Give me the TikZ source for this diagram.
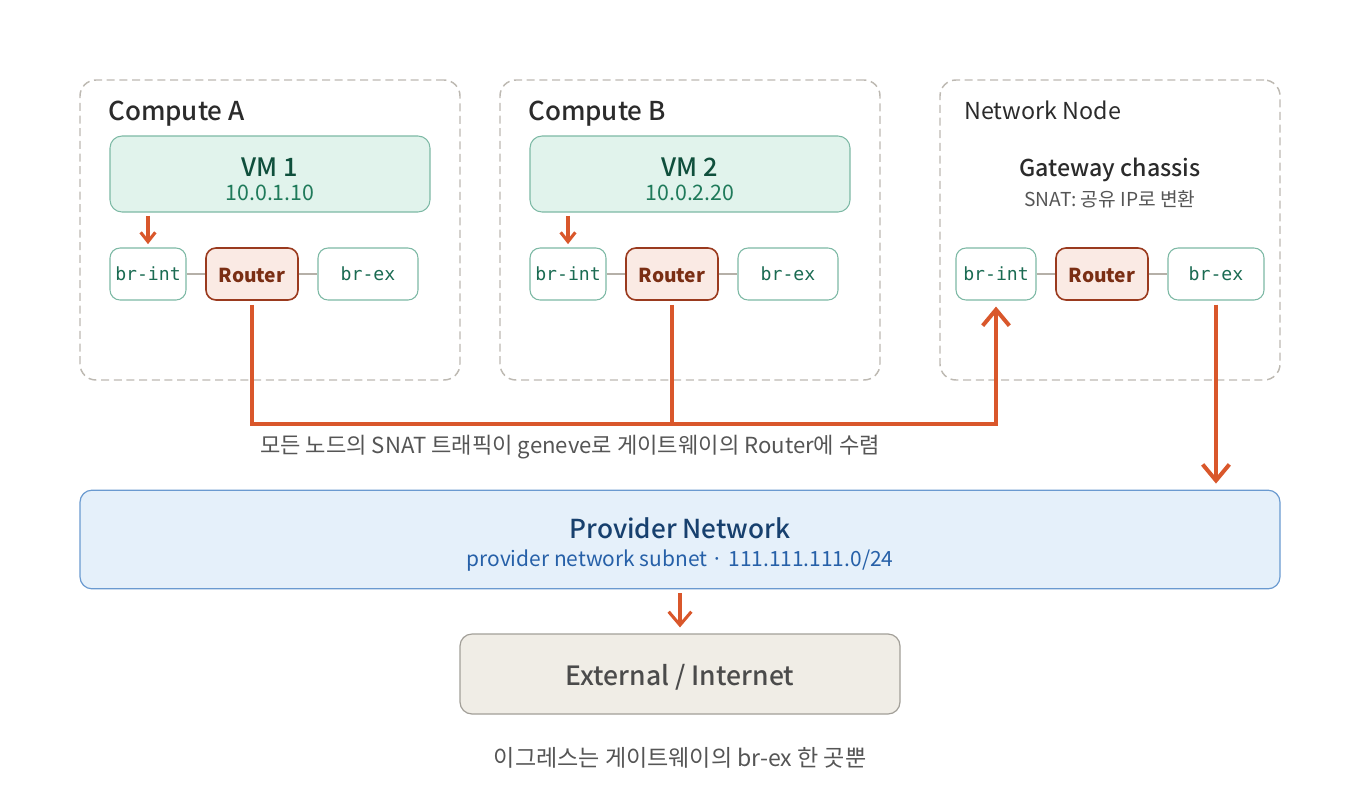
\documentclass[tikz,border=0pt]{standalone}
\usepackage{fontspec}
\setmainfont{Noto Sans CJK KR}
\setmonofont{DejaVu Sans Mono}
\newfontfamily\medfont{Noto Sans CJK KR Medium}
\usetikzlibrary{arrows.meta,positioning,calc}

\definecolor{hostgray}{HTML}{BDB9B2}
\definecolor{vmfill}{HTML}{E1F3EC}
\definecolor{vmline}{HTML}{7DB9A5}
\definecolor{vmtext}{HTML}{0F4F3C}
\definecolor{iptext}{HTML}{1F7A5A}
\definecolor{brtext}{HTML}{1A6B52}
\definecolor{rtfill}{HTML}{FAEAE4}
\definecolor{rtline}{HTML}{9A3A1E}
\definecolor{rttext}{HTML}{7A2E14}
\definecolor{flow}{HTML}{D9572B}
\definecolor{linkgray}{HTML}{B5B0A8}
\definecolor{provfill}{HTML}{E5F0FA}
\definecolor{provline}{HTML}{6A9AD0}
\definecolor{provtitle}{HTML}{17406E}
\definecolor{provsub}{HTML}{2660A8}
\definecolor{extfill}{HTML}{F0EDE6}
\definecolor{extline}{HTML}{A29F98}
\definecolor{inktext}{HTML}{2B2B2B}
\definecolor{notetext}{HTML}{555555}

\begin{document}
\begin{tikzpicture}[
  x=0.75pt,y=-0.75pt,
  host/.style={draw=hostgray,line width=1.1pt,dash pattern=on 6pt off 3.5pt,rounded corners=12pt},
  hosttitle/.style={anchor=base west,inner sep=0pt,text=inktext,font=\medfont\fontsize{19.5}{22}\selectfont},
  vm/.style={draw=vmline,fill=vmfill,line width=0.8pt,rounded corners=9pt,minimum width=240pt,minimum height=57pt},
  vmname/.style={inner sep=0pt,text=vmtext,font=\medfont\fontsize{19}{22}\selectfont},
  vmip/.style={inner sep=0pt,text=iptext,font=\fontsize{16}{18}\selectfont},
  bridge/.style={draw=vmline,fill=white,line width=0.8pt,rounded corners=7.5pt,minimum height=39pt,text height=10pt,text depth=0pt,text=brtext,font=\ttfamily\fontsize{13.6}{15}\selectfont},
  router/.style={draw=rtline,fill=rtfill,line width=1.2pt,rounded corners=7.5pt,minimum width=69pt,minimum height=39pt,text height=12pt,text depth=0pt,text=rttext,font=\bfseries\fontsize{14.4}{16}\selectfont},
  link/.style={draw=linkgray,line width=1pt},
  feed/.style={-{Straight Barb[length=7pt,width=11pt]},draw=flow,line width=2.3pt},
  trunk/.style={-{Straight Barb[length=12pt,width=20pt]},draw=flow,line width=3pt},
  trunkline/.style={draw=flow,line width=3pt},
  note/.style={inner sep=0pt,text=notetext,font=\fontsize{16.6}{19}\selectfont}
]
\useasboundingbox (0,0) rectangle (1360,800);

% ===== Hosts =====
\node[host,minimum width=285pt,minimum height=225pt] (hostA) at (270,230) {};
\node[host,minimum width=285pt,minimum height=225pt] (hostB) at (690,230) {};
\node[host,minimum width=255pt,minimum height=225pt] (hostN) at (1110,230) {};
\node[hosttitle] (hostAt) at (108,120) {Compute A};
\node[hosttitle] (hostBt) at (528,120) {Compute B};
\node[hosttitle,font=\fontsize{17.5}{20}\selectfont] (hostNt) at (964,119) {Network Node};

% ===== Compute A =====
\node[vm] (vm1) at (270,174) {};
\node[vmname] (vm1n) at (270,167) {VM 1};
\node[vmip] (vm1ip) at (270,193) {10.0.1.10};
\node[bridge,minimum width=57pt] (brA) at (148,274) {br-int};
\node[router,right=14pt of brA] (rtA) {Router};
\node[bridge,minimum width=75pt,right=14pt of rtA] (exA) {br-ex};

% ===== Compute B =====
\node[vm] (vm2) at (690,174) {};
\node[vmname] (vm2n) at (690,167) {VM 2};
\node[vmip] (vm2ip) at (690,193) {10.0.2.20};
\node[bridge,minimum width=57pt] (brB) at (568,274) {br-int};
\node[router,right=14pt of brB] (rtB) {Router};
\node[bridge,minimum width=75pt,right=14pt of rtB] (exB) {br-ex};

% ===== Network Node =====
\node[inner sep=0pt,text=inktext,font=\medfont\fontsize{17.4}{20}\selectfont] (gw) at (1110,170) {Gateway chassis};
\node[inner sep=0pt,text=notetext,font=\fontsize{14.4}{17}\selectfont] (gwsub) at (1110,199) {SNAT: 공유 IP로 변환};
\node[bridge,minimum width=60pt] (brN) at (996,274) {br-int};
\node[router,right=14pt of brN] (rtN) {Router};
\node[bridge,minimum width=72pt,right=14pt of rtN] (exN) {br-ex};

% ===== Provider / External =====
\node[draw=provline,fill=provfill,line width=0.9pt,rounded corners=9pt,minimum width=900pt,minimum height=74pt] (prov) at (680,539.5) {};
\node[inner sep=0pt,text=provtitle,font=\medfont\fontsize{19.6}{22}\selectfont] (provt) at (680,528) {Provider Network};
\node[inner sep=0pt,text=provsub,font=\fontsize{15.7}{18}\selectfont] (provs) at (680,561) {provider network subnet · 111.111.111.0/24};
\node[draw=extline,fill=extfill,line width=0.9pt,rounded corners=9pt,minimum width=330pt,minimum height=60pt,text height=17pt,text depth=0pt,text=inktext!85,font=\medfont\fontsize{19.9}{22}\selectfont] (ext) at (680,674) {External / Internet};

% ===== Notes =====
\coordinate (busy) at (0,424);
\node[note,anchor=west] (snatnote) at (260,447) {모든 노드의 SNAT 트래픽이 geneve로 게이트웨이의 Router에 수렴};
\node[note,font=\fontsize{17.3}{20}\selectfont] (egress) at (680,758) {이그레스는 게이트웨이의 br-ex 한 곳뿐};

% ===== Links =====
\draw[link] (brA) -- (rtA);
\draw[link] (rtA) -- (exA);
\draw[link] (brB) -- (rtB);
\draw[link] (rtB) -- (exB);
\draw[link] (brN) -- (rtN);
\draw[link] (rtN) -- (exN);

% ===== Traffic =====
\draw[feed] ([yshift=-2.5pt]brA.north |- vm1.south) -- ([yshift=2.5pt]brA.north);
\draw[feed] ([yshift=-2.5pt]brB.north |- vm2.south) -- ([yshift=2.5pt]brB.north);
\draw[trunk] ([yshift=-3pt]rtA.south) |- (brN.south |- busy) -- ([yshift=-4.5pt]brN.south);
\draw[trunkline] ([yshift=-3pt]rtB.south) -- (rtB.south |- busy);
\draw[trunk] ([yshift=-3pt]exN.south) -- ([yshift=4.5pt]exN.south |- prov.north);
\draw[feed,-{Straight Barb[length=10pt,width=17pt]}] ([yshift=-3pt]prov.south) -- ([yshift=4.5pt]ext.north);

\end{tikzpicture}
\end{document}
